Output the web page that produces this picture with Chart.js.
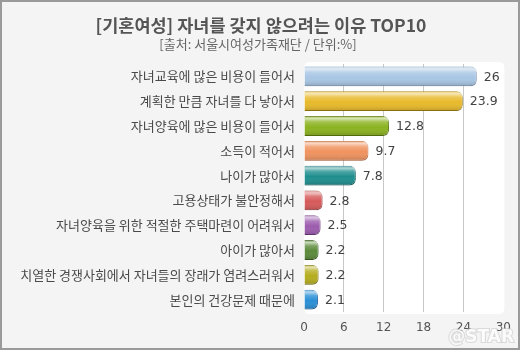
<!DOCTYPE html>
<html>
<head>
<meta charset="utf-8">
<script src="https://cdn.jsdelivr.net/npm/chart.js@4.4.0/dist/chart.umd.min.js"></script>
<style>
html,body{margin:0;padding:0;background:#f4f4f4;}
#wrap{width:520px;height:350px;position:relative;}
</style>
</head>
<body>
<div id="wrap"><canvas id="c" width="520" height="350"></canvas></div>
<script>
const titleText = "[기혼여성] 자녀를 갖지 않으려는 이유 TOP10";
const subtitleText = "[출처: 서울시여성가족재단 / 단위:%]";
const categories = [
  "자녀교육에 많은 비용이 들어서",
  "계획한 만큼 자녀를 다 낳아서",
  "자녀양육에 많은 비용이 들어서",
  "소득이 적어서",
  "나이가 많아서",
  "고용상태가 불안정해서",
  "자녀양육을 위한 적절한 주택마련이 어려워서",
  "아이가 많아서",
  "치열한 경쟁사회에서 자녀들의 장래가 염려스러워서",
  "본인의 건강문제 때문에"
];
const values = [26, 23.9, 12.8, 9.7, 7.8, 2.8, 2.5, 2.2, 2.2, 2.1];
const xTicks = [0, 6, 12, 18, 24, 30];
const barColors = ["#a8c6e4","#e8b92a","#8bb320","#f0925e","#1f8e8e","#d65a5a","#9c5cae","#5b8a3a","#b5ad1e","#2a8fd6"];
const borderColors = ["#7492b2","#a48410","#5c7c10","#c06a3c","#0f6060","#a03a3a","#6e3a80","#3b6122","#807a10","#1a62a2"];

function roundRectPath(ctx, x, y, w, h, r) {
  ctx.beginPath();
  ctx.moveTo(x + r, y);
  ctx.lineTo(x + w - r, y);
  ctx.quadraticCurveTo(x + w, y, x + w, y + r);
  ctx.lineTo(x + w, y + h - r);
  ctx.quadraticCurveTo(x + w, y + h, x + w - r, y + h);
  ctx.lineTo(x + r, y + h);
  ctx.quadraticCurveTo(x, y + h, x, y + h - r);
  ctx.lineTo(x, y + r);
  ctx.quadraticCurveTo(x, y, x + r, y);
  ctx.closePath();
}

const decor = {
  id: 'decor',
  beforeDraw(chart) {
    const ctx = chart.ctx, a = chart.chartArea;
    ctx.save();
    ctx.fillStyle = '#f4f4f4';
    ctx.fillRect(0, 0, chart.width, chart.height);
    ctx.strokeStyle = '#9a9a9a';
    ctx.lineWidth = 2;
    ctx.strokeRect(1, 1, chart.width - 2, chart.height - 2);
    ctx.fillStyle = '#ffffff';
    roundRectPath(ctx, a.left, a.top - 2, a.right - a.left + 1, a.bottom - a.top + 4, 6);
    ctx.fill();
    // titles
    ctx.textAlign = 'center';
    ctx.textBaseline = 'middle';
    ctx.fillStyle = '#555555';
    ctx.font = 'bold 17.5px "Noto Sans CJK KR"';
    ctx.fillText(titleText, 261, 25);
    ctx.fillStyle = '#666666';
    ctx.font = '13px "Noto Sans CJK KR"';
    ctx.fillText(subtitleText, 258, 44);
    ctx.restore();
  },
  afterDatasetsDraw(chart) {
    const ctx = chart.ctx;
    const meta = chart.getDatasetMeta(0);
    meta.data.forEach((el, i) => {
      const p = el.getProps(['x','y','base','height'], true);
      const top = p.y - p.height / 2, h = p.height;
      const w = p.x - p.base;
      ctx.save();
      ctx.beginPath();
      const r = Math.min(6, w / 2);
      ctx.moveTo(p.base, top);
      ctx.lineTo(p.x - r, top);
      ctx.quadraticCurveTo(p.x, top, p.x, top + r);
      ctx.lineTo(p.x, top + h - r);
      ctx.quadraticCurveTo(p.x, top + h, p.x - r, top + h);
      ctx.lineTo(p.base, top + h);
      ctx.closePath();
      ctx.clip();
      const g = ctx.createLinearGradient(0, top, 0, top + h);
      g.addColorStop(0, 'rgba(255,255,255,0.15)');
      g.addColorStop(0.12, 'rgba(255,255,255,0.65)');
      g.addColorStop(0.3, 'rgba(255,255,255,0.2)');
      g.addColorStop(0.55, 'rgba(255,255,255,0)');
      g.addColorStop(1, 'rgba(0,0,0,0.18)');
      ctx.fillStyle = g;
      ctx.fillRect(p.base, top, w, h);
      ctx.restore();
      // value label
      ctx.save();
      ctx.fillStyle = '#444444';
      ctx.font = '12.5px "DejaVu Sans"';
      ctx.textAlign = 'left';
      ctx.textBaseline = 'middle';
      ctx.fillText(String(values[i]), p.x + 7, p.y + 1);
      ctx.restore();
    });
    // watermark
    ctx.save();
    ctx.font = 'bold 17px "DejaVu Sans"';
    ctx.textAlign = 'right';
    ctx.textBaseline = 'middle';
    ctx.lineWidth = 2;
    ctx.strokeStyle = 'rgba(200,200,200,0.6)';
    ctx.strokeText('@STAR', 514, 338);
    ctx.fillStyle = 'rgba(255,255,255,0.85)';
    ctx.fillText('@STAR', 514, 338);
    ctx.restore();
  }
};

new Chart(document.getElementById('c'), {
  type: 'bar',
  data: {
    labels: categories,
    datasets: [{
      data: values,
      backgroundColor: barColors,
      borderColor: borderColors,
      borderWidth: 1,
      borderRadius: 6,
      borderSkipped: 'start',
      barPercentage: 0.8,
      categoryPercentage: 1.0
    }]
  },
  options: {
    indexAxis: 'y',
    responsive: false,
    animation: false,
    layout: { padding: { left: 0, right: 14, top: 64, bottom: 0 } },
    plugins: { legend: { display: false }, tooltip: { enabled: false } },
    scales: {
      x: {
        min: 0, max: 30,
        afterBuildTicks(scale) { scale.ticks = xTicks.map(v => ({ value: v })); },
        afterFit(scale) { scale.height = 38; },
        border: { display: false },
        grid: {
          drawTicks: false,
          color: (c) => (c.tick && (c.tick.value === 0 || c.tick.value === 30)) ? 'rgba(0,0,0,0)' : '#c8c8c8',
          lineWidth: 1
        },
        ticks: {
          padding: 9,
          color: '#555555',
          font: { family: 'DejaVu Sans', size: 12 }
        }
      },
      y: {
        afterFit(scale) { scale.width = 304; },
        border: { display: false },
        grid: { display: false, drawTicks: false },
        ticks: {
          padding: 9,
          color: '#4a4a4a',
          font: { family: 'Noto Sans CJK KR', size: 13 }
        }
      }
    }
  },
  plugins: [decor]
});
</script>
</body>
</html>
